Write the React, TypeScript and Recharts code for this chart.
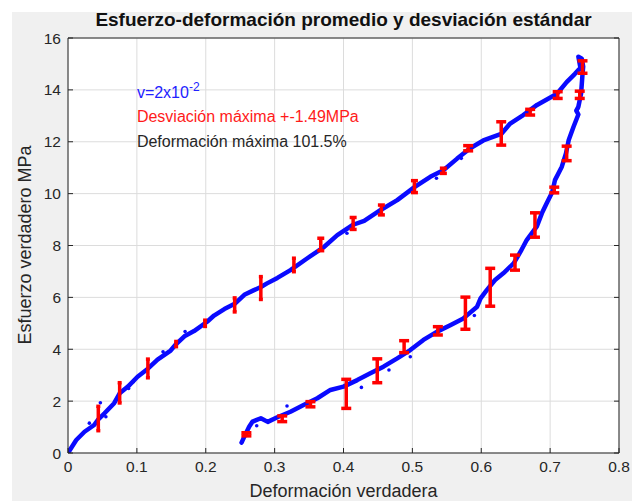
import React from 'react';
import {
  ComposedChart,
  Line,
  Scatter,
  ErrorBar,
  XAxis,
  YAxis,
  CartesianGrid,
  ReferenceDot,
} from 'recharts';

// Curva promedio, tramo de carga [deformación, esfuerzo MPa]
const loadCurve: [number, number][] = [
  [0, 0], [0.012, 0.5], [0.024, 0.82], [0.038, 1.08], [0.044, 1.3], [0.053, 1.53],
  [0.067, 1.92], [0.075, 2.3], [0.087, 2.56], [0.101, 2.94], [0.116, 3.25], [0.13, 3.6],
  [0.149, 3.95], [0.157, 4.2], [0.169, 4.5], [0.183, 4.7], [0.202, 5.06], [0.212, 5.3],
  [0.227, 5.55], [0.242, 5.75], [0.256, 6.1], [0.27, 6.28], [0.28, 6.4], [0.289, 6.54],
  [0.304, 6.75], [0.323, 7.05], [0.347, 7.5], [0.372, 7.95], [0.391, 8.4], [0.414, 8.8],
  [0.43, 8.95], [0.454, 9.37], [0.478, 9.75], [0.503, 10.25], [0.526, 10.65], [0.545, 10.9],
  [0.565, 11.35], [0.584, 11.75], [0.603, 12.05], [0.629, 12.3], [0.642, 12.7], [0.661, 13.03],
  [0.681, 13.42], [0.71, 13.85], [0.724, 14.3], [0.736, 14.62], [0.744, 14.85], [0.741, 15.28],
  [0.746, 15.2], [0.748, 14.9],
];

// Tramo de descarga
const unloadCurve: [number, number][] = [
  [0.747, 14.6], [0.745, 13.87], [0.741, 13.35], [0.738, 13.2], [0.741, 13.05], [0.734, 12.58],
  [0.727, 12.07], [0.723, 11.55], [0.717, 11.04], [0.707, 10.52], [0.703, 10.05], [0.695, 9.63],
  [0.688, 9.24], [0.681, 8.75], [0.666, 8.21], [0.657, 7.76], [0.647, 7.31], [0.632, 6.93],
  [0.62, 6.67], [0.608, 6.28], [0.599, 5.96], [0.594, 5.64], [0.574, 5.19], [0.555, 4.93],
  [0.536, 4.68], [0.516, 4.36], [0.497, 3.97], [0.478, 3.65], [0.458, 3.33], [0.439, 3.07],
  [0.42, 2.81], [0.4, 2.56], [0.381, 2.43], [0.362, 2.11], [0.342, 1.85], [0.323, 1.59],
  [0.304, 1.38], [0.29, 1.2], [0.28, 1.34], [0.268, 1.21], [0.263, 1.01], [0.256, 0.63],
  [0.252, 0.4],
];

// Puntos sueltos de las probetas alrededor de la curva promedio
const strayPoints: [number, number][] = [
  [0.047, 1.94], [0.055, 1.4], [0.031, 1.15], [0.088, 2.49], [0.095, 2.75], [0.17, 4.68],
  [0.138, 3.9], [0.405, 8.47], [0.535, 10.59], [0.571, 11.36], [0.741, 13.3], [0.318, 1.81],
  [0.426, 2.53], [0.497, 3.71], [0.59, 5.3], [0.466, 3.2], [0.274, 1.05],
];

// Desviación estándar [deformación, esfuerzo, ±desv]
const loadDev: [number, number, number][] = [
  [0.044, 1.33, 0.47], [0.075, 2.32, 0.39], [0.116, 3.26, 0.36], [0.157, 4.2, 0.1],
  [0.199, 5.0, 0.12], [0.242, 5.71, 0.27], [0.28, 6.36, 0.44], [0.328, 7.25, 0.26],
  [0.367, 8.04, 0.24], [0.414, 8.85, 0.23], [0.455, 9.37, 0.19], [0.503, 10.27, 0.23],
  [0.545, 10.88, 0.1], [0.581, 11.75, 0.1], [0.629, 12.32, 0.45], [0.671, 13.14, 0.11],
  [0.711, 13.8, 0.13], [0.747, 14.88, 0.24],
];

const unloadDev: [number, number, number][] = [
  [0.743, 13.81, 0.14], [0.724, 11.55, 0.28], [0.706, 10.14, 0.11], [0.678, 8.79, 0.47],
  [0.649, 7.34, 0.29], [0.613, 6.39, 0.73], [0.577, 5.39, 0.62], [0.537, 4.71, 0.16],
  [0.488, 4.1, 0.23], [0.449, 3.17, 0.46], [0.404, 2.28, 0.56], [0.352, 1.88, 0.1],
  [0.311, 1.32, 0.11], [0.259, 0.72, 0.06],
];

const xTicks = [0, 0.1, 0.2, 0.3, 0.4, 0.5, 0.6, 0.7, 0.8];
const yTicks = [0, 2, 4, 6, 8, 10, 12, 14, 16];

const AXIS = '#262626';
const BLUE = '#0a0aff';
const FONT = '"Liberation Sans", Arial, Helvetica, sans-serif';

const curve = [...loadCurve, ...unloadCurve].map(([x, y]) => ({ x, y }));
const strays = strayPoints.map(([x, y]) => ({ x, y }));
const toBars = (rows: [number, number, number][]) => rows.map(([x, y, err]) => ({ x, y, err }));
// caps get wider along the loading branch
const barsNarrow = toBars(loadDev.filter(([x]) => x < 0.34));
const barsMid = toBars(loadDev.filter(([x]) => x >= 0.34 && x < 0.56));
const barsWide = toBars([...loadDev.filter(([x]) => x >= 0.56), ...unloadDev]);

const noShape = () => <g />;
const dotShape = (p: any) => <circle cx={p.cx} cy={p.cy} r={1.8} fill={BLUE} />;

const note = (text: React.ReactNode, color: string) => (props: any) => {
  const { x, y } = props.viewBox;
  return (
    <text x={x} y={y} fill={color} fontSize={16} fontFamily={FONT}>
      {text}
    </text>
  );
};

const errorBars = (data: any[], cap: number, key: string) => (
  <Scatter key={key} data={data} dataKey="y" xAxisId="x" yAxisId="y" shape={noShape} isAnimationActive={false}>
    <ErrorBar dataKey="err" direction="y" width={cap} strokeWidth={3.5} stroke="#ff0000" isAnimationActive={false} />
  </Scatter>
);

export default function App() {
  return (
    <div style={{ position: 'absolute', left: 0, top: 0, width: 632, height: 501, background: '#fff', fontFamily: FONT }}>
      <div style={{ position: 'absolute', left: 12, top: 12, right: 0, bottom: 0, background: '#f0f0f0' }} />
      <div
        style={{
          position: 'absolute', left: 48, width: 591, top: 9, textAlign: 'center',
          fontWeight: 'bold', fontSize: 19, lineHeight: '22px', color: '#111',
        }}
      >
        Esfuerzo-deformación promedio y desviación estándar
      </div>
      <div
        style={{
          position: 'absolute', left: 68, width: 551, top: 480, textAlign: 'center',
          fontSize: 18, lineHeight: '22px', color: AXIS,
        }}
      >
        Deformación verdadera
      </div>
      <div
        style={{
          position: 'absolute', left: 25, top: 245, width: 300, marginLeft: -150, marginTop: -11,
          textAlign: 'center', fontSize: 18, lineHeight: '22px', color: AXIS, transform: 'rotate(-90deg)',
        }}
      >
        Esfuerzo verdadero MPa
      </div>
      <ComposedChart width={632} height={501} margin={{ top: 0, right: 0, bottom: 0, left: 0 }} style={{ position: 'absolute', left: 0, top: 0 }}>
        <CartesianGrid xAxisId="x" yAxisId="y" stroke="#dcdcdc" fill="#ffffff" />
        <XAxis
          xAxisId="x" dataKey="x" type="number" domain={[0, 0.8]} ticks={xTicks} allowDataOverflow
          height={48} tickSize={-5} tickMargin={13}
          axisLine={{ stroke: AXIS }} tickLine={{ stroke: AXIS }}
          tick={{ fill: AXIS, fontSize: 15.5 }} tickFormatter={(v: number) => String(v)}
        />
        <XAxis
          xAxisId="top" orientation="top" type="number" domain={[0, 0.8]} ticks={xTicks} allowDataOverflow
          height={38} tickSize={-5} axisLine={{ stroke: AXIS }} tickLine={{ stroke: AXIS }}
          tickFormatter={() => ''}
        />
        <YAxis
          yAxisId="y" dataKey="y" type="number" domain={[0, 16]} ticks={yTicks} allowDataOverflow
          width={68} tickSize={-5} tickMargin={12}
          axisLine={{ stroke: AXIS }} tickLine={{ stroke: AXIS }}
          tick={{ fill: AXIS, fontSize: 15.5 }}
        />
        <YAxis
          yAxisId="right" orientation="right" type="number" domain={[0, 16]} ticks={yTicks} allowDataOverflow
          width={13} tickSize={-5} axisLine={{ stroke: AXIS }} tickLine={{ stroke: AXIS }}
          tickFormatter={() => ''}
        />
        <Line
          data={curve} dataKey="y" xAxisId="x" yAxisId="y" type="linear" stroke={BLUE}
          strokeWidth={4.5} strokeLinejoin="round" strokeLinecap="round" dot={false} isAnimationActive={false}
        />
        <Scatter data={strays} dataKey="y" xAxisId="x" yAxisId="y" shape={dotShape} isAnimationActive={false} />
        {errorBars(barsNarrow, 2, 'narrow')}
        {errorBars(barsMid, 3.5, 'mid')}
        {errorBars(barsWide, 5, 'wide')}
        <ReferenceDot
          xAxisId="x" yAxisId="y" x={0.1} y={13.7} r={0} fill="none" stroke="none"
          label={note(<>v=2x10<tspan dy={-7} fontSize={12}>-2</tspan></>, '#2222ff')}
        />
        <ReferenceDot
          xAxisId="x" yAxisId="y" x={0.1} y={12.75} r={0} fill="none" stroke="none"
          label={note('Desviación máxima +-1.49MPa', '#ff1a1a')}
        />
        <ReferenceDot
          xAxisId="x" yAxisId="y" x={0.1} y={11.8} r={0} fill="none" stroke="none"
          label={note('Deformación máxima 101.5%', AXIS)}
        />
      </ComposedChart>
    </div>
  );
}
